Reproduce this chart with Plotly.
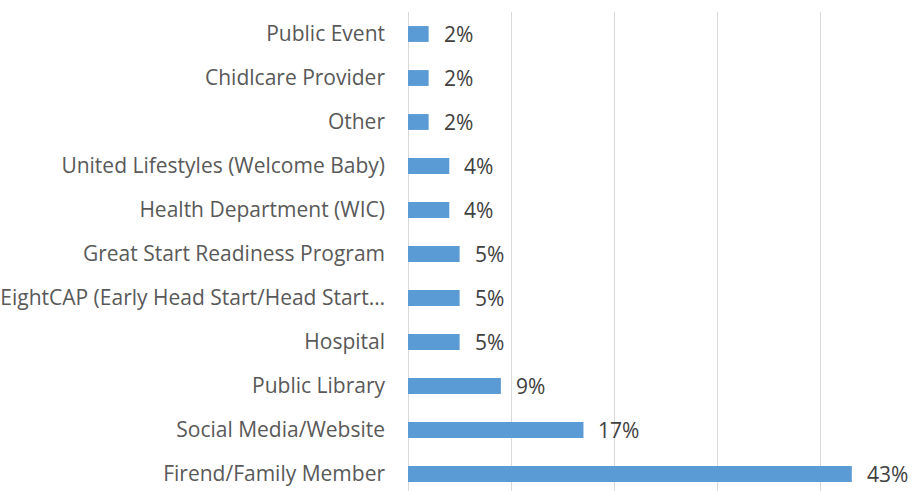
import plotly.graph_objects as go

categories = [
    "Firend/Family Member",
    "Social Media/Website",
    "Public Library",
    "Hospital",
    "EightCAP (Early Head Start/Head Start…",
    "Great Start Readiness Program",
    "Health Department (WIC)",
    "United Lifestyles (Welcome Baby)",
    "Other",
    "Chidlcare Provider",
    "Public Event",
]
values = [0.43, 0.17, 0.09, 0.05, 0.05, 0.05, 0.04, 0.04, 0.02, 0.02, 0.02]
labels = ["43%", "17%", "9%", "5%", "5%", "5%", "4%", "4%", "2%", "2%", "2%"]

fig = go.Figure()
fig.add_trace(go.Bar(
    x=values, y=categories, orientation="h",
    marker=dict(color="#5B9BD5", line=dict(width=0)),
    hoverinfo="skip",
))

for c, v, t in zip(categories, values, labels):
    fig.add_annotation(x=v, y=c, text=t, showarrow=False, xanchor="left",
                       xshift=13, yshift=0,
                       font=dict(family="Open Sans", size=21, color="#404040"))

fig.update_layout(
    width=922, height=491,
    margin=dict(l=404, r=0, t=12, b=0),
    paper_bgcolor="white", plot_bgcolor="white",
    bargap=0.64, showlegend=False,
    font=dict(family="Open Sans", size=21, color="#595959"),
)
fig.update_xaxes(range=[0, 0.498], dtick=0.1, showticklabels=False,
                 showgrid=True, gridcolor="#D9D9D9", gridwidth=1,
                 zeroline=True, zerolinecolor="#D9D9D9", zerolinewidth=1,
                 showline=False, fixedrange=True)
fig.update_yaxes(range=[-0.386, 10.5], showgrid=False, ticks="",
                 ticklabelstandoff=22, showline=False,
                 tickfont=dict(family="Open Sans", size=21, color="#595959"),
                 fixedrange=True)

fig.write_html("out.html", config={"displayModeBar": False},
               post_script="document.body.style.margin='0';")
